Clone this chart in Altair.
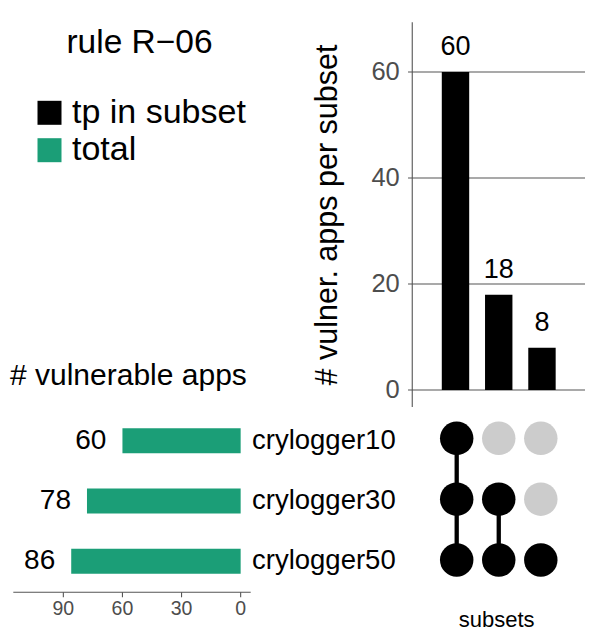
import altair as alt
import pandas as pd

# ---- data ----
sets = ["crylogger10", "crylogger30", "crylogger50"]
set_sizes = [60, 78, 86]
intersections = ["crylogger10 & crylogger30 & crylogger50",
                 "crylogger30 & crylogger50",
                 "crylogger50"]
intersection_sizes = [60, 18, 8]
# membership[i][j]: is set j part of intersection i
membership = [[1, 1, 1], [0, 1, 1], [0, 0, 1]]
top_ticks = [0, 20, 40, 60]
set_ticks = [0, 30, 60, 90]
legend_labels = ["tp in subset", "total"]
legend_colors = ["#000000", "#1b9e77"]
legend_title = "rule R\u221206"
top_title = "# vulner. apps per subset"
set_title = "# vulnerable apps"
matrix_title = "subsets"

FONT = "Liberation Sans"
AX = "#555555"
LAB = "#4d4d4d"

top_df = pd.DataFrame({
    "intersection": intersections,
    "size": intersection_sizes,
    "pos": list(range(1, len(intersections) + 1)),
    "type": legend_labels[0],
})
top_tick_df = pd.DataFrame({"v": top_ticks})
set_tick_df = pd.DataFrame({"v": set_ticks})
set_df = pd.DataFrame({"set": sets, "size": set_sizes, "type": legend_labels[1]})
rows = []
for i, inter in enumerate(intersections):
    for j, s in enumerate(sets):
        rows.append({"intersection": inter, "set": s, "set_idx": j,
                     "member": membership[i][j]})
mat_df = pd.DataFrame(rows)

legend = alt.Legend(
    orient="none", legendX=24.5, legendY=19.3, direction="vertical",
    title=legend_title, titleAnchor="middle", titleFontSize=33.5,
    titleFontWeight="normal", titleColor="black", titlePadding=35, titleLimit=600,
    labelFontSize=34, labelColor="black", labelLimit=600, labelOffset=5.5,
    symbolType="square", symbolSize=576, symbolStrokeWidth=0, symbolOpacity=1,
    rowPadding=3.4,
)
color_scale = alt.Scale(domain=legend_labels, range=legend_colors)
color = alt.Color("type:N", scale=color_scale, legend=legend)


def one(text):
    return alt.Data(values=[{"t": text}])


# ---- intersection size bars (top right) ----
X0_TOP, X1_TOP = 0, 3.995
Y0_TOP, Y1_TOP = -3.2, 69.4
xs_top = alt.Scale(domain=[X0_TOP, X1_TOP], range=[399.25, 582], nice=False, zero=False)
ys_top = alt.Scale(domain=[Y0_TOP, Y1_TOP], range=[399.0, 14.2], nice=False, zero=False)
TICK_TOP = -0.098  # tick length of ~4.5px expressed on the x scale

grid = alt.Chart(top_tick_df).mark_rule(color=AX, strokeWidth=1.1).encode(
    y=alt.Y("v:Q", scale=ys_top, axis=None),
    x=alt.X(datum=TICK_TOP, type="quantitative", scale=xs_top, axis=None),
    x2=alt.X2(datum=X1_TOP),
)
top_domain = alt.Chart(one("")).mark_rule(color=AX, strokeWidth=1.1).encode(
    x=alt.X(datum=X0_TOP, type="quantitative", scale=xs_top, axis=None),
    y=alt.Y(datum=Y0_TOP, type="quantitative", scale=ys_top, axis=None),
    y2=alt.Y2(datum=Y1_TOP),
)
top_tick_labels = alt.Chart(top_tick_df).mark_text(
    align="right", baseline="middle", dx=-12.5, fontSize=25.5, color=LAB).encode(
    x=alt.X(datum=X0_TOP, type="quantitative", scale=xs_top, axis=None),
    y=alt.Y("v:Q", scale=ys_top, axis=None),
    text="v:Q",
)
top_bars = alt.Chart(top_df).mark_bar(orient="vertical", size=27.4).encode(
    x=alt.X("pos:Q", scale=xs_top, axis=None),
    y=alt.Y("size:Q", scale=ys_top, axis=None),
    color=color,
)
top_text = alt.Chart(top_df).mark_text(baseline="alphabetic", dy=-16.8,
                                       fontSize=27, color="black").encode(
    x=alt.X("pos:Q", scale=xs_top, axis=None),
    y=alt.Y("size:Q", scale=ys_top, axis=None),
    text="size:Q",
)
top_title_mark = alt.Chart(one(top_title)).mark_text(
    angle=270, align="center", baseline="alphabetic", fontSize=30.5, color="black").encode(
    x=alt.value(329.25), y=alt.value(207), text="t:N")
top_layer = alt.layer(grid, top_domain, top_tick_labels, top_bars, top_text, top_title_mark)

# ---- set size bars (bottom left) ----
X0_SET, X1_SET = -5.1, 115.4
xs_set = alt.Scale(domain=[X0_SET, X1_SET], range=[242.7, 5.3], nice=False, zero=False)
ys_set = alt.Scale(domain=sets, range=[420.3, 565.8], paddingInner=0.585, paddingOuter=0)
AXIS_Y_SET = 584.3

set_domain = alt.Chart(one("")).mark_rule(color=AX, strokeWidth=1.1).encode(
    x=alt.X(datum=X0_SET, type="quantitative", scale=xs_set, axis=None),
    x2=alt.X2(datum=X1_SET),
    y=alt.value(AXIS_Y_SET),
)
set_ticks_mark = alt.Chart(set_tick_df).mark_rule(color=AX, strokeWidth=1.1).encode(
    x=alt.X("v:Q", scale=xs_set, axis=None),
    y=alt.value(AXIS_Y_SET), y2=alt.value(AXIS_Y_SET + 5),
)
set_tick_labels = alt.Chart(set_tick_df).mark_text(
    align="center", baseline="top", fontSize=19.5, color=LAB).encode(
    x=alt.X("v:Q", scale=xs_set, axis=None),
    y=alt.value(AXIS_Y_SET + 8),
    text="v:Q",
)
set_bars = alt.Chart(set_df).mark_bar().encode(
    x=alt.X("size:Q", scale=xs_set, axis=None),
    y=alt.Y("set:N", scale=ys_set, sort=sets, axis=None),
    color=color,
)
set_text = alt.Chart(set_df).mark_text(align="right", baseline="middle", dx=-16,
                                       fontSize=28, color="black").encode(
    x=alt.X("size:Q", scale=xs_set, axis=None),
    y=alt.Y("set:N", scale=ys_set, sort=sets, axis=None),
    text="size:Q",
)
set_names = alt.Chart(set_df).mark_text(align="left", baseline="middle",
                                        fontSize=27.5, color="black").encode(
    x=alt.value(244),
    y=alt.Y("set:N", scale=ys_set, sort=sets, axis=None),
    text="set:N",
)
set_title_mark = alt.Chart(one(set_title)).mark_text(
    align="left", baseline="alphabetic", fontSize=30, color="black").encode(
    x=alt.value(2), y=alt.value(377.3), text="t:N")
set_layer = alt.layer(set_domain, set_ticks_mark, set_tick_labels, set_bars,
                      set_text, set_names, set_title_mark)

# ---- membership matrix (bottom right) ----
xs_m = alt.Scale(type="point", domain=intersections, range=[448.7, 532.8], padding=0)
ys_m = alt.Scale(type="point", domain=sets, range=[430.3, 552.0], padding=0)
m_lines = alt.Chart(mat_df).transform_filter("datum.member == 1").mark_line(
    color="black", strokeWidth=4.3).encode(
    x=alt.X("intersection:N", scale=xs_m, sort=intersections, axis=None),
    y=alt.Y("set:N", scale=ys_m, sort=sets, axis=None),
    detail="intersection:N",
    order="set_idx:Q",
)
m_dots = alt.Chart(mat_df).mark_circle(size=1120, opacity=1).encode(
    x=alt.X("intersection:N", scale=xs_m, sort=intersections, axis=None),
    y=alt.Y("set:N", scale=ys_m, sort=sets, axis=None),
    color=alt.condition("datum.member == 1", alt.value("black"), alt.value("#cccccc")),
)
m_title = alt.Chart(one(matrix_title)).mark_text(
    align="center", baseline="alphabetic", fontSize=22, color="black").encode(
    x=alt.value(488.7), y=alt.value(618.7), text="t:N")
m_layer = alt.layer(m_lines, m_dots, m_title)

chart = alt.layer(set_layer, top_layer, m_layer).resolve_scale(
    x="independent", y="independent"
).properties(
    width=582, height=626, padding=0,
    autosize=alt.AutoSizeParams(type="none"),
).configure(font=FONT).configure_view(stroke=None)

chart.save("out.html", embed_options={"renderer": "svg", "actions": False})
